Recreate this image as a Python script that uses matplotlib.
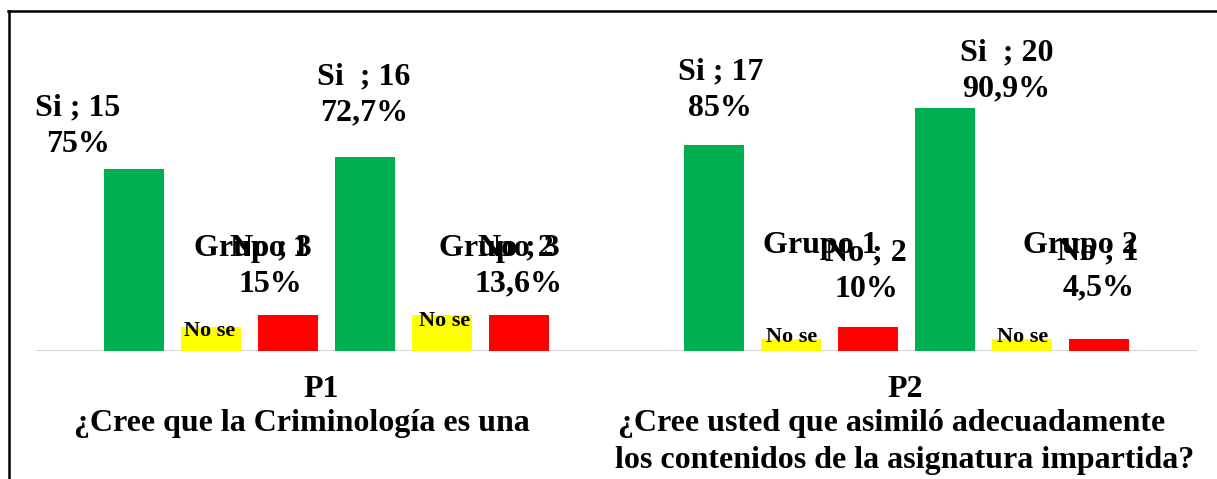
import matplotlib
matplotlib.use("Agg")
import matplotlib.pyplot as plt
from matplotlib.lines import Line2D

plt.rcParams['font.family'] = ['Liberation Serif', 'DejaVu Serif']
plt.rcParams['font.weight'] = 'bold'

# datos
preguntas = ["P1", "P2"]
textos = [["¿Cree que la Criminología es una"],
          ["¿Cree usted que asimiló adecuadamente",
           "los contenidos de la asignatura impartida?"]]
grupos = ["Grupo 1", "Grupo 2"]
si = [[15, 16], [17, 20]]
no_se = [[2, 3], [1, 1]]
no = [[3, 3], [2, 1]]
si_lab = [["Si ; 15", "Si  ; 16"], ["Si ; 17", "Si  ; 20"]]
si_pct = [["75%", "72,7%"], ["85%", "90,9%"]]
no_lab = [["No ; 3", "No ; 3"], ["No ; 2", "No ; 1"]]
no_pct = [["15%", "13,6%"], ["10%", "4,5%"]]

verde = "#00B050"
amarillo = "#FFFF00"
rojo = "#FF0000"

# desplazamientos de etiquetas en pixeles (dx, dy hacia arriba)
off_si = [[(-56, 53), (-1, 72)], [(6, 65), (61, 48)]]
off_no = [[(-17, 59), (0, 59)], [(-2, 66), (-1, 79)]]
off_gr = [[(41, 71), (55, 59)], [(29, 86), (58, 86)]]
off_ns = [[(-1, -9), (3, -11)], [(0, -3), (0, -3)]]
off_cat = [[(-5, -46), (-24, -80)], [(-2, -46), (-15, -80), (-2, -117)]]

W, H = 1217, 479
fig = plt.figure(figsize=(W / 100, H / 100), dpi=100)
ax = fig.add_axes([36 / W, (H - 351) / H, (1197 - 36) / W, 340 / H])
ax.set_xlim(0, 2)
ax.set_ylim(0, 28)
ax.axis('off')

paso = 77 / 580.5
ancho = 60 / 580.5
px = 0.72  # pixeles -> puntos
big = 23
small = 16


def etiqueta(x, y, s, off, size=big, extra=0):
    ax.annotate(s, (x, y), xytext=(off[0] * px, (off[1] - extra) * px),
                textcoords='offset points', ha='center', va='baseline',
                fontsize=size, fontweight='bold', color='black')


for q in range(len(preguntas)):
    c = q + 0.5
    for g in range(len(grupos)):
        k = g * 3
        xs = c + (k - 2.5) * paso
        xn = c + (k + 1 - 2.5) * paso
        xr = c + (k + 2 - 2.5) * paso
        ax.bar(xs, si[q][g], width=ancho, color=verde)
        ax.bar(xn, no_se[q][g], width=ancho, color=amarillo)
        ax.bar(xr, no[q][g], width=ancho, color=rojo)

        etiqueta(xs, si[q][g], si_lab[q][g], off_si[q][g])
        etiqueta(xs, si[q][g], si_pct[q][g], off_si[q][g], extra=36)
        etiqueta(xn, no_se[q][g], grupos[g], off_gr[q][g])
        etiqueta(xr, no[q][g], no_lab[q][g], off_no[q][g])
        etiqueta(xr, no[q][g], no_pct[q][g], off_no[q][g], extra=36)
        etiqueta(xn, no_se[q][g], "No se", off_ns[q][g], size=small)

    lineas = [preguntas[q]] + textos[q]
    for i, s in enumerate(lineas):
        etiqueta(c, 0, s, off_cat[q][i])

ax.axhline(0, color="#D0D0D0", lw=2, zorder=0)

# marco
fig.add_artist(Line2D([8 / W, 1], [1 - 11 / H, 1 - 11 / H], color='black', lw=1.8))
fig.add_artist(Line2D([9 / W, 9 / W], [0, 1 - 11 / H], color='black', lw=1.8))

fig.savefig("out.png", dpi=100)
